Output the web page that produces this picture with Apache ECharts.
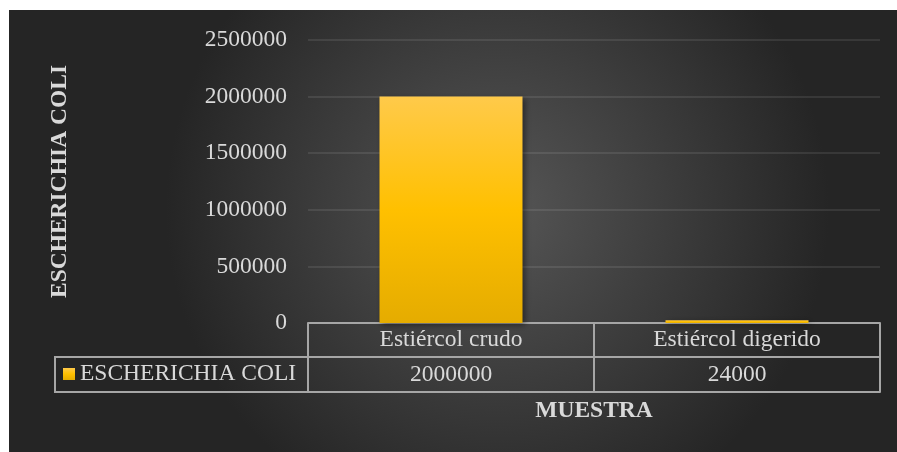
<!DOCTYPE html>
<html>
<head>
<meta charset="utf-8">
<script src="https://cdn.jsdelivr.net/npm/echarts@6/dist/echarts.min.js"></script>
<style>html,body{margin:0;padding:0;background:#fff;}#c{width:897px;height:452px;}</style>
</head>
<body>
<div id="c"></div>
<script>
const categories = ['Estiércol crudo', 'Estiércol digerido'];
const seriesName = 'ESCHERICHIA COLI';
const values = [2000000, 24000];
const yTicks = [0, 500000, 1000000, 1500000, 2000000, 2500000];

const FONT = '"Liberation Serif", "Times New Roman", serif';
const TXT = '#d9d9d9';
const LINE = '#a6a6a6';
const FS = 23.5;

const chart = echarts.init(document.getElementById('c'), null, {renderer: 'canvas'});
const barColor = new echarts.graphic.LinearGradient(0, 0, 0, 1, [
  {offset: 0, color: '#ffca4a'},
  {offset: 0.5, color: '#ffc000'},
  {offset: 1, color: '#e5ac00'}
]);
const option = {
  backgroundColor: '#ffffff',
  animation: false,
  graphic: [
    {
      type: 'rect', z: -10, silent: true,
      shape: {x: 9, y: 10, width: 888, height: 442},
      style: {
        fill: new echarts.graphic.RadialGradient(0.55, 0.45, 0.75, [
          {offset: 0, color: '#565656'},
          {offset: 1, color: '#252525'}
        ])
      }
    },
    {
      type: 'rect', z: 5, silent: true,
      shape: {x: 55, y: 357, width: 253, height: 35},
      style: {fill: 'none', stroke: LINE, lineWidth: 2}
    }
  ],
  grid: {left: 308, right: 17, top: 40, bottom: 129, containLabel: false},
  legend: {
    data: [seriesName],
    left: 63, top: 362, padding: 0,
    itemWidth: 12, itemHeight: 12, itemGap: 0,
    icon: 'rect',
    textStyle: {color: TXT, fontFamily: FONT, fontSize: FS, padding: [0, 0, 0, 0]}
  },
  xAxis: [
    {
      type: 'category', data: categories, position: 'bottom',
      axisLine: {show: true, lineStyle: {color: LINE, width: 2}},
      axisTick: {show: true, length: 69, interval: 0, lineStyle: {color: LINE, width: 2}},
      axisLabel: {color: TXT, fontFamily: FONT, fontSize: FS, margin: 5, interval: 0},
      splitLine: {show: false}
    },
    {
      type: 'category', data: values.map(String), position: 'bottom', offset: 34,
      axisLine: {show: true, lineStyle: {color: LINE, width: 2}},
      axisTick: {show: false},
      axisLabel: {color: TXT, fontFamily: FONT, fontSize: FS, margin: 6, interval: 0},
      splitLine: {show: false}
    },
    {
      type: 'category', data: categories, position: 'bottom', offset: 69,
      axisLine: {show: true, lineStyle: {color: LINE, width: 2}},
      axisTick: {show: false},
      axisLabel: {show: false},
      name: 'MUESTRA', nameLocation: 'middle', nameGap: 7,
      nameTextStyle: {color: TXT, fontFamily: FONT, fontSize: FS, fontWeight: 'bold'}
    }
  ],
  yAxis: {
    type: 'value', min: yTicks[0], max: yTicks[yTicks.length - 1], interval: yTicks[1] - yTicks[0],
    axisLine: {show: false}, axisTick: {show: false},
    axisLabel: {color: TXT, fontFamily: FONT, fontSize: FS, margin: 21, formatter: v => String(v)},
    splitLine: {lineStyle: {color: 'rgba(255,255,255,0.12)', width: 1.5}},
    name: seriesName, nameLocation: 'middle', nameGap: 236, nameRotate: 90,
    nameTextStyle: {color: TXT, fontFamily: FONT, fontSize: FS, fontWeight: 'bold'}
  },
  series: [{
    name: seriesName, type: 'bar', data: values, barWidth: '50%', xAxisIndex: 0,
    itemStyle: {
      color: barColor,
      shadowBlur: 6, shadowColor: 'rgba(0,0,0,0.45)', shadowOffsetX: 2, shadowOffsetY: 2
    }
  }]
};
chart.setOption(option);
</script>
</body>
</html>
